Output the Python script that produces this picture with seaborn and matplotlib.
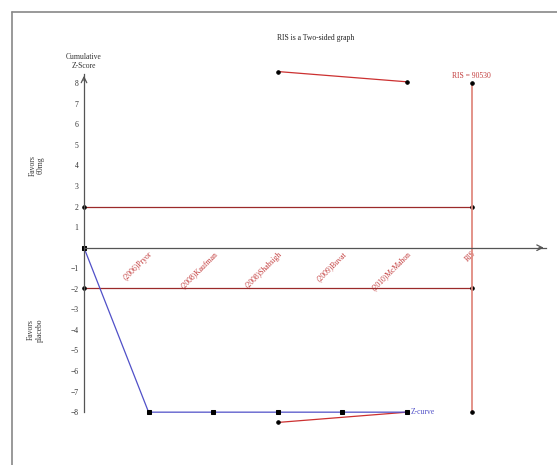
import numpy as np
import pandas as pd
import matplotlib
matplotlib.use("Agg")
import matplotlib.pyplot as plt
import seaborn as sns

# data
studies = ["(2006)Pryor", "(2008)Kaufman", "(2008)Shabsigh", "(2009)Buvat", "(2010)McMahon"]
z_pos = [0, 1, 2, 3, 4, 5]
z_vals = [0, -8, -8, -8, -8, -8]
upper_pos = [3, 5]
upper_vals = [8.57, 8.07]
lower_pos = [3, 5]
lower_vals = [-8.5, -8.0]
conv = 1.96
ris_pos = 6
ris_top, ris_bottom = 8, -8
ris_text = "RIS = 90530"

sns.set_style("white")
plt.rcParams["font.family"] = ["Liberation Serif", "DejaVu Serif"]

fig = plt.figure(figsize=(5.57, 4.65), dpi=100)
ax = fig.add_axes([0, 0, 1, 1])
ax.set_xlim(-1.300, 7.322)
ax.set_ylim(-10.57, 12.05)

axis_col = "#555555"
red_txt = "#c23b3b"
fs = 5.5

# axes through origin
for s in ["top", "right"]:
    ax.spines[s].set_visible(False)
ax.spines["left"].set_position(("data", 0))
ax.spines["bottom"].set_position(("data", 0))
ax.spines["left"].set_bounds(-8, 8.45)
ax.spines["bottom"].set_bounds(0, 7.15)
for s in ["left", "bottom"]:
    ax.spines[s].set_color(axis_col)
    ax.spines[s].set_linewidth(0.9)

yt = [v for v in range(-8, 9) if v != 0]
ax.set_yticks(yt)
ax.set_yticklabels([str(v).replace("-", "\u2212") for v in yt], fontsize=fs, color="#333333")
ax.tick_params(axis="y", direction="out", length=3, width=0.8, color=axis_col, pad=1)

ax.set_xticks(list(range(1, 7)))
ax.set_xticklabels(studies + ["RIS"], fontsize=fs, color=red_txt, rotation=45,
                   ha="right", va="top", rotation_mode="anchor")
ax.tick_params(axis="x", direction="in", length=3, width=0.8, color=axis_col, pad=1.5)

# arrow heads
ax.annotate("", xy=(7.16, 0), xytext=(7.0, 0),
            arrowprops=dict(arrowstyle="->", color=axis_col, lw=0.9, mutation_scale=10))
ax.annotate("", xy=(0, 8.5), xytext=(0, 8.0),
            arrowprops=dict(arrowstyle="->", color=axis_col, lw=0.9, mutation_scale=10))

# conventional boundaries
for c in [conv, -conv]:
    sns.lineplot(x=[0, ris_pos], y=[c, c], color="#9b2a2a", lw=0.9, ax=ax,
                 marker="o", markersize=2.5, markerfacecolor="black", markeredgecolor="black")

# RIS vertical line
sns.lineplot(x=[ris_pos, ris_pos], y=[ris_top, ris_bottom], color="#e08a80", lw=1.3, ax=ax,
             orient="y", marker="o", markersize=2.5, markerfacecolor="black",
             markeredgecolor="black")

# monitoring boundaries
sns.lineplot(x=upper_pos, y=upper_vals, color="#cc3030", lw=0.9, ax=ax,
             marker="o", markersize=2.5, markerfacecolor="black", markeredgecolor="black")
sns.lineplot(x=lower_pos, y=lower_vals, color="#cc3030", lw=0.9, ax=ax,
             marker="o", markersize=2.5, markerfacecolor="black", markeredgecolor="black")

# Z-curve
sns.lineplot(x=z_pos, y=z_vals, color="#5050c8", lw=0.9, ax=ax,
             marker="s", markersize=3, markerfacecolor="black", markeredgecolor="black")

# texts
ax.text(3.58, 10.2, "RIS is a Two-sided graph", fontsize=fs, ha="center", va="center",
        color="#222222")
ax.text(0, 9.06, "Cumulative\nZ-Score", fontsize=fs, ha="center", va="center",
        color="#333333", linespacing=1.1)
ax.text(-0.73, 4.0, "Favors\n60mg", fontsize=fs, ha="center", va="center", rotation=90,
        color="#333333", linespacing=1.1)
ax.text(-0.75, -4.0, "Favors\nplacebo", fontsize=fs, ha="center", va="center", rotation=90,
        color="#333333", linespacing=1.1)
ax.text(ris_pos, 8.36, ris_text, fontsize=fs, ha="center", va="center", color=red_txt)
ax.text(5.06, -8, "Z-curve", fontsize=fs, ha="left", va="center", color="#5050c8")

# frame lines (left and top)
ax.plot([0.0215, 0.0215], [0, 0.974], transform=ax.transAxes, color="#888888", lw=1.2,
        clip_on=False)
ax.plot([0.0215, 1], [0.974, 0.974], transform=ax.transAxes, color="#888888", lw=1.2,
        clip_on=False)

if ax.get_legend() is not None:
    ax.get_legend().remove()
ax.set_xlabel("")
ax.set_ylabel("")

fig.savefig("out.png", dpi=100)
